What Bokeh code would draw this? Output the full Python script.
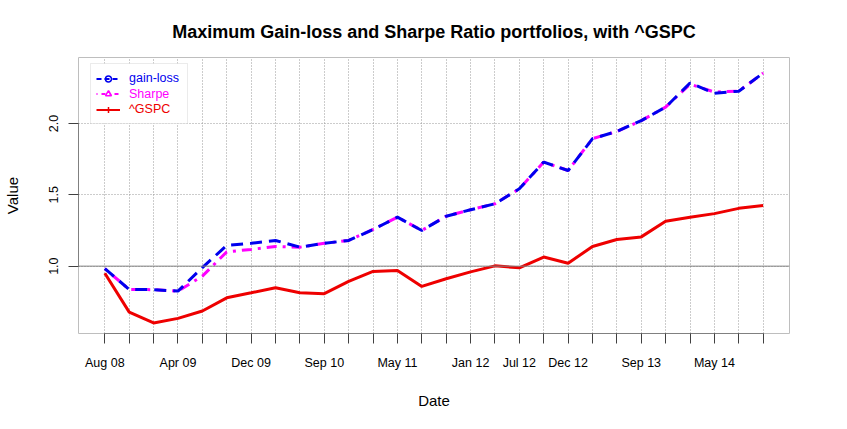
from bokeh.plotting import figure
from bokeh.models import (Range1d, FixedTicker, Span, Legend, LegendItem, BoxAnnotation,
                          PrintfTickFormatter)
from bokeh.embed import file_html
from bokeh.resources import INLINE

# ---- data ----
idx = list(range(28))
tick_labels = {0: "Aug 08", 3: "Apr 09", 6: "Dec 09", 9: "Sep 10", 12: "May 11",
               15: "Jan 12", 17: "Jul 12", 19: "Dec 12", 22: "Sep 13", 25: "May 14"}
gain_loss = [0.982, 0.837, 0.835, 0.825, 0.990, 1.145, 1.160, 1.180, 1.133, 1.160,
             1.180, 1.257, 1.343, 1.250, 1.350, 1.395, 1.437, 1.542, 1.729, 1.670,
             1.893, 1.944, 2.020, 2.114, 2.283, 2.212, 2.226, 2.353]
sharpe = [0.982, 0.837, 0.835, 0.825, 0.930, 1.100, 1.117, 1.138, 1.133, 1.160,
          1.180, 1.257, 1.343, 1.250, 1.350, 1.395, 1.437, 1.542, 1.729, 1.670,
          1.893, 1.944, 2.020, 2.114, 2.275, 2.220, 2.226, 2.353]
gspc = [0.950, 0.678, 0.602, 0.634, 0.686, 0.778, 0.813, 0.849, 0.813, 0.807,
        0.893, 0.963, 0.970, 0.858, 0.912, 0.960, 1.002, 0.988, 1.064, 1.020,
        1.138, 1.187, 1.205, 1.315, 1.342, 1.368, 1.405, 1.425]
y_ticks = [1.0, 1.5, 2.0]

FONT = "Liberation Sans"
BLUE, MAGENTA, RED = "#0000ee", "#ff00ff", "#ee0000"

p = figure(width=831, height=413, output_backend="svg", toolbar_location=None,
           x_range=Range1d(-1.08, 28.08), y_range=Range1d(0.528, 2.462),
           min_border_left=77, min_border_right=42, min_border_top=57,
           min_border_bottom=80)
# a range that the series never fall in: used only by the legend sample glyphs
p.extra_x_ranges = {"legend_only": Range1d(1000, 1001)}

p.title.text = "Maximum Gain-loss and Sharpe Ratio portfolios, with ^GSPC"
p.title.align = "center"
p.title.text_font = FONT
p.title.text_font_size = "18px"
p.title.text_font_style = "bold"
p.title.text_color = "black"
p.title.standoff = 32

p.outline_line_color = "#bebebe"

p.xaxis.ticker = FixedTicker(ticks=idx)
p.xaxis.major_label_overrides = {i: tick_labels.get(i, "") for i in idx}
p.xaxis.bounds = (0, 27)
p.yaxis.ticker = FixedTicker(ticks=y_ticks)
p.yaxis.bounds = (1.0, 2.0)
p.yaxis.formatter = PrintfTickFormatter(format="%.1f")
p.yaxis.major_label_orientation = "parallel"

for ax in (p.xaxis[0], p.yaxis[0]):
    ax.axis_line_color = "#808080"
    ax.major_tick_line_color = "#404040"
    ax.major_tick_out = 10
    ax.major_tick_in = 0
    ax.minor_tick_line_color = None
    ax.major_label_text_font = FONT
    ax.major_label_text_font_size = "12.5px"
    ax.major_label_text_color = "black"
    ax.axis_label_text_font = FONT
    ax.axis_label_text_font_size = "15px"
    ax.axis_label_text_font_style = "normal"
    ax.axis_label_text_color = "black"

p.xaxis.axis_label = "Date"
p.yaxis.axis_label = "Value"
p.xaxis.major_label_standoff = 12
p.xaxis.axis_label_standoff = 19
p.yaxis.major_label_standoff = 10
p.yaxis.axis_label_standoff = 26

p.xgrid.grid_line_color = "#999999"
p.xgrid.grid_line_dash = "1 2"
p.ygrid.grid_line_color = "#999999"
p.ygrid.grid_line_dash = "1 2"

p.add_layout(Span(location=1.0, dimension="width", line_color="#808080", line_width=1))

r_gspc = p.line(idx, gspc, line_color=RED, line_width=3)
r_sh = p.line(idx, sharpe, line_color=MAGENTA, line_width=3, line_dash="3 6 10 6")
r_gl = p.line(idx, gain_loss, line_color=BLUE, line_width=3, line_dash="12 7")

# legend sample glyphs: same series on a range outside the frame (clipped away)
def legend_glyphs(series, color, dash, marker, size):
    ln = p.line(idx, series, x_range_name="legend_only", line_color=color,
                line_width=2, line_dash=dash)
    mk = p.scatter(idx, series, x_range_name="legend_only", marker=marker, size=size,
                   fill_color=None, line_color=color, line_width=1.5)
    return [ln, mk]

g_gl = legend_glyphs(gain_loss, BLUE, "5 3", "circle", 8)
g_sh = legend_glyphs(sharpe, MAGENTA, "1 4 4 4", "triangle", 8)
g_sp = legend_glyphs(gspc, RED, "solid", "cross", 9)

p.add_layout(BoxAnnotation(left=12, right=109, bottom=210, top=270,
                           left_units="screen", right_units="screen",
                           bottom_units="screen", top_units="screen",
                           fill_color="white", fill_alpha=1.0,
                           line_color="#bebebe", line_width=1))

rows = [("gain-loss", g_gl, BLUE, 247.5),
        ("Sharpe", g_sh, MAGENTA, 232),
        ("^GSPC", g_sp, RED, 216.5)]
for label, rends, col, yb in rows:
    lg = Legend(items=[LegendItem(label=label, renderers=rends)],
                location=(18, yb), padding=0, margin=0, spacing=0,
                glyph_width=24, glyph_height=15, label_height=15,
                label_standoff=9, label_text_font=FONT, label_text_font_size="12.5px",
                label_text_color=col, border_line_alpha=0, background_fill_alpha=0)
    p.add_layout(lg)

open("out.html", "w").write(file_html(p, INLINE))
